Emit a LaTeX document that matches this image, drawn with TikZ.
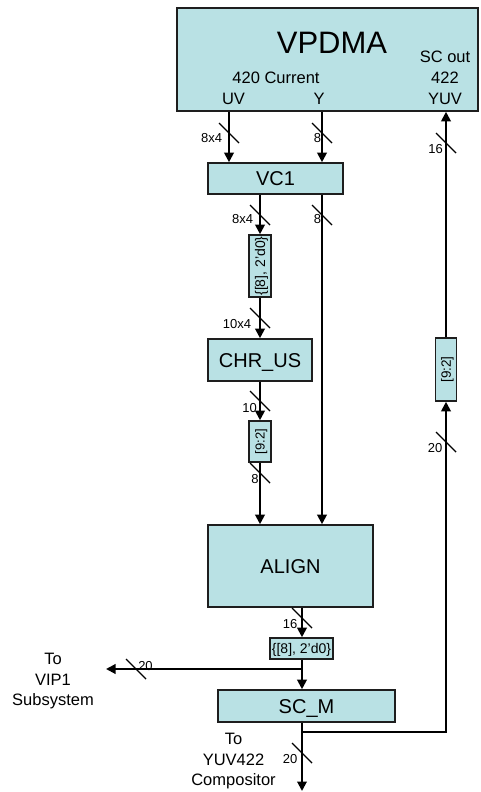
\documentclass[tikz,border=0pt]{standalone}
\usepackage{fontspec}
\setmainfont{Liberation Sans}
\usetikzlibrary{arrows.meta}
\definecolor{boxfill}{RGB}{185,225,228}
\definecolor{edgecol}{RGB}{30,30,30}
\newcommand\fsVP{\fontsize{31}{37}\selectfont}
\newcommand\fsMid{\fontsize{16.5}{20.5}\selectfont}
\newcommand\fsBox{\fontsize{20}{24}\selectfont}
\newcommand\fsSmall{\fontsize{13}{15}\selectfont}
\newcommand\fsTag{\fontsize{14}{16}\selectfont}
\begin{document}
\begin{tikzpicture}[x=1pt,y=-1pt,
  blk/.style={draw=edgecol, line width=1.6pt, fill=boxfill, inner sep=0pt, align=center},
  bigtext/.style={font=\fsBox, text height=14.3pt, text depth=0pt},
  tagtext/.style={font=\fsTag, text height=10pt, text depth=0pt},
  lbl/.style={inner sep=0pt, anchor=base},
  wire/.style={line width=2pt, draw=black},
  arr/.style={wire, -{Triangle[length=9.5pt,width=9.5pt]}},
  busline/.style={line width=1.4pt, draw=black}]
\useasboundingbox (0,0) rectangle (480,792);
\newcommand\busmark[1]{\draw[busline] #1 ++(-10,-10) -- ++(20,20);}

% columns and free ends
\coordinate (xUV) at (229,0);
\coordinate (xY) at (322,0);
\coordinate (xL) at (260,0);
\coordinate (xA) at (302,0);
\coordinate (xR) at (446,0);
\coordinate (jn) at (302,669);
\coordinate (vipend) at (106,669);
\coordinate (br) at (302,732);
\coordinate (brR) at (446,732);
\coordinate (outend) at (302,791);

% blocks
\node[blk, minimum width=301, minimum height=103] (vp) at (327.5,59.5) {};
\node[lbl, font=\fsVP] (vptitle) at (332,53) {VPDMA};
\node[lbl, font=\fsMid] (cur) at (276,83) {420 Current};
\node[lbl, font=\fsMid] (uvt) at (233.5,104) {UV};
\node[lbl, font=\fsMid] (yt) at (319,104) {Y};
\node[lbl, font=\fsMid] (scout) at (445,63) {SC out};
\node[lbl, font=\fsMid] (f422) at (445,83) {422};
\node[lbl, font=\fsMid] (yuvt) at (445,104) {YUV};

\node[blk, bigtext, minimum width=135, minimum height=31] (vc1) at (275.5,178.5) {VC1};
\node[blk, tagtext, rotate=90, minimum width=62, minimum height=22] (boxA) at (260,266) {\{[8], 2’d0\}};
\node[blk, bigtext, minimum width=104, minimum height=42] (chr) at (260,360) {CHR\_US};
\node[blk, font=\fsSmall, text height=9.3pt, text depth=0pt, rotate=90, minimum width=41, minimum height=22] (boxB) at (260,441.5) {[9:2]};
\node[blk, bigtext, minimum width=165, minimum height=82] (align) at (290.5,566) {ALIGN};
\node[blk, tagtext, minimum width=63, minimum height=21] (boxC) at (301.5,648.5) {\{[8], 2’d0\}};
\node[blk, bigtext, minimum width=177, minimum height=32] (scm) at (306.5,706) {SC\_M};
\node[blk, font=\fontsize{13.5}{16}\selectfont, text height=9.6pt, text depth=0pt, rotate=90, minimum width=63, minimum height=21] (boxD) at (446,369.5) {[9:2]};

% connectors
\draw[arr] (vp.south -| xUV) -- (vc1.north -| xUV);
\draw[arr] (vp.south -| xY) -- (vc1.north -| xY);
\draw[arr] (vc1.south -| xL) -- (boxA.east);
\draw[arr] (boxA.west) -- (chr.north);
\draw[arr] (chr.south) -- (boxB.east);
\draw[arr] (boxB.west) -- (align.north -| xL);
\draw[arr] (vc1.south -| xY) -- (align.north -| xY);
\draw[arr] (align.south -| xA) -- (boxC.north -| xA);
\draw[wire] (boxC.south -| xA) -- (jn);
\draw[arr] (jn) -- (scm.north -| xA);
\draw[arr] (jn) -- (vipend);
\draw[arr] (scm.south -| xA) -- (outend);
\draw[arr] (br) -- (brR) -- (boxD.west);
\draw[arr] (boxD.east) -- (vp.south -| xR);

% bus width marks
\busmark{(229,133)}
\busmark{(322,133)}
\busmark{(260,215)}
\busmark{(322,215)}
\busmark{(260,318)}
\busmark{(260,401)}
\busmark{(260,473)}
\busmark{(302,618)}
\busmark{(136,669)}
\busmark{(302,753)}
\busmark{(446,143)}
\busmark{(446,442)}

% bus width labels
\node[lbl, font=\fsSmall] (w1) at (211.5,142) {8x4};
\node[lbl, font=\fsSmall] (w2) at (317.5,142) {8};
\node[lbl, font=\fsSmall] (w3) at (242.5,223) {8x4};
\node[lbl, font=\fsSmall] (w4) at (317.5,223) {8};
\node[lbl, font=\fsSmall] (w5) at (237,328) {10x4};
\node[lbl, font=\fsSmall] (w6) at (249.5,412) {10};
\node[lbl, font=\fsSmall] (w7) at (255,483) {8};
\node[lbl, font=\fsSmall] (w8) at (290,628) {16};
\node[lbl, font=\fsSmall] (w9) at (145.5,670) {20};
\node[lbl, font=\fsSmall] (w10) at (290,763) {20};
\node[lbl, font=\fsSmall] (w11) at (435.5,153) {16};
\node[lbl, font=\fsSmall] (w12) at (435,452) {20};

% destinations
\node[inner sep=0pt, anchor=north, align=center, font=\fsMid] (vip) at (53,653) {To\\VIP1\\Subsystem};
\node[inner sep=0pt, anchor=north, align=center, font=\fsMid] (comp) at (233.5,733) {To\\YUV422\\Compositor};
\end{tikzpicture}
\end{document}
